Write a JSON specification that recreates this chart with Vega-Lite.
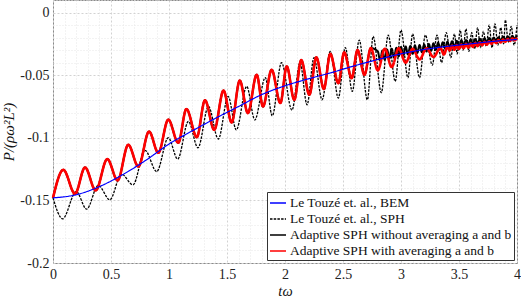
{
"$schema": "https://vega.github.io/schema/vega-lite/v6.json",
"width": 464, "height": 263,
"autosize": "none",
"padding": {"left": 53, "top": 0, "right": 4, "bottom": 35},
"background": "white",
"config": {"view": {"stroke": "#8a8a8a", "strokeWidth": 1}, "font": "Liberation Serif, DejaVu Serif, serif",
  "legend": {"orient": "bottom-right", "offset": 3, "fillColor": "white", "strokeColor": "#333", "padding": 2, "labelFont": "Liberation Serif, DejaVu Serif, serif", "labelFontSize": 13.5, "labelColor": "#111", "symbolType": "stroke", "symbolSize": 256, "symbolStrokeWidth": 1.3, "rowPadding": -1.5, "labelLimit": 400, "labelOffset": 3}},
"data": {"values": [
{"s":"Le Touzé et. al., BEM","t":0,"v":-0.148},{"s":"Le Touzé et. al., BEM","t":0.2,"v":-0.1455},{"s":"Le Touzé et. al., BEM","t":0.4,"v":-0.139},{"s":"Le Touzé et. al., BEM","t":0.6,"v":-0.1295},{"s":"Le Touzé et. al., BEM","t":0.8,"v":-0.118},{"s":"Le Touzé et. al., BEM","t":1.0,"v":-0.105},{"s":"Le Touzé et. al., BEM","t":1.2,"v":-0.0945},{"s":"Le Touzé et. al., BEM","t":1.4,"v":-0.0845},{"s":"Le Touzé et. al., BEM","t":1.6,"v":-0.075},{"s":"Le Touzé et. al., BEM","t":1.8,"v":-0.0655},{"s":"Le Touzé et. al., BEM","t":2.0,"v":-0.0585},{"s":"Le Touzé et. al., BEM","t":2.2,"v":-0.053},{"s":"Le Touzé et. al., BEM","t":2.4,"v":-0.048},{"s":"Le Touzé et. al., BEM","t":2.6,"v":-0.0425},{"s":"Le Touzé et. al., BEM","t":2.8,"v":-0.0375},{"s":"Le Touzé et. al., BEM","t":3.0,"v":-0.033},{"s":"Le Touzé et. al., BEM","t":3.2,"v":-0.0295},{"s":"Le Touzé et. al., BEM","t":3.4,"v":-0.027},{"s":"Le Touzé et. al., BEM","t":3.6,"v":-0.025},{"s":"Le Touzé et. al., BEM","t":3.8,"v":-0.023},{"s":"Le Touzé et. al., BEM","t":4.0,"v":-0.0215},
{"s":"Le Touzé et. al., SPH","t":0,"v":-0.148},{"s":"Le Touzé et. al., SPH","t":0.083,"v":-0.1647},{"s":"Le Touzé et. al., SPH","t":0.2,"v":-0.143},{"s":"Le Touzé et. al., SPH","t":0.29,"v":-0.157},{"s":"Le Touzé et. al., SPH","t":0.39,"v":-0.138},{"s":"Le Touzé et. al., SPH","t":0.49,"v":-0.1495},{"s":"Le Touzé et. al., SPH","t":0.59,"v":-0.129},{"s":"Le Touzé et. al., SPH","t":0.69,"v":-0.1376},{"s":"Le Touzé et. al., SPH","t":0.793,"v":-0.110},{"s":"Le Touzé et. al., SPH","t":0.894,"v":-0.127},{"s":"Le Touzé et. al., SPH","t":0.994,"v":-0.100},{"s":"Le Touzé et. al., SPH","t":1.075,"v":-0.117},{"s":"Le Touzé et. al., SPH","t":1.167,"v":-0.087},{"s":"Le Touzé et. al., SPH","t":1.25,"v":-0.108},{"s":"Le Touzé et. al., SPH","t":1.34,"v":-0.075},{"s":"Le Touzé et. al., SPH","t":1.425,"v":-0.101},{"s":"Le Touzé et. al., SPH","t":1.51,"v":-0.067},{"s":"Le Touzé et. al., SPH","t":1.58,"v":-0.0937},{"s":"Le Touzé et. al., SPH","t":1.67,"v":-0.059},{"s":"Le Touzé et. al., SPH","t":1.74,"v":-0.0857},{"s":"Le Touzé et. al., SPH","t":1.83,"v":-0.052},{"s":"Le Touzé et. al., SPH","t":1.89,"v":-0.0825},{"s":"Le Touzé et. al., SPH","t":1.97,"v":-0.040},{"s":"Le Touzé et. al., SPH","t":2.06,"v":-0.078},{"s":"Le Touzé et. al., SPH","t":2.13,"v":-0.040},{"s":"Le Touzé et. al., SPH","t":2.19,"v":-0.0737},{"s":"Le Touzé et. al., SPH","t":2.25,"v":-0.036},{"s":"Le Touzé et. al., SPH","t":2.32,"v":-0.0697},{"s":"Le Touzé et. al., SPH","t":2.39,"v":-0.031},{"s":"Le Touzé et. al., SPH","t":2.46,"v":-0.0683},{"s":"Le Touzé et. al., SPH","t":2.52,"v":-0.028},{"s":"Le Touzé et. al., SPH","t":2.58,"v":-0.063},{"s":"Le Touzé et. al., SPH","t":2.64,"v":-0.022},{"s":"Le Touzé et. al., SPH","t":2.71,"v":-0.0697},{"s":"Le Touzé et. al., SPH","t":2.76,"v":-0.019},{"s":"Le Touzé et. al., SPH","t":2.83,"v":-0.064},{"s":"Le Touzé et. al., SPH","t":2.89,"v":-0.018},{"s":"Le Touzé et. al., SPH","t":2.95,"v":-0.055},{"s":"Le Touzé et. al., SPH","t":3.0,"v":-0.014},{"s":"Le Touzé et. al., SPH","t":3.06,"v":-0.052},{"s":"Le Touzé et. al., SPH","t":3.1,"v":-0.017},{"s":"Le Touzé et. al., SPH","t":3.16,"v":-0.052},{"s":"Le Touzé et. al., SPH","t":3.21,"v":-0.018},{"s":"Le Touzé et. al., SPH","t":3.27,"v":-0.042},{"s":"Le Touzé et. al., SPH","t":3.31,"v":-0.018},{"s":"Le Touzé et. al., SPH","t":3.35,"v":-0.040},{"s":"Le Touzé et. al., SPH","t":3.39,"v":-0.016},{"s":"Le Touzé et. al., SPH","t":3.43,"v":-0.036},{"s":"Le Touzé et. al., SPH","t":3.46,"v":-0.017},{"s":"Le Touzé et. al., SPH","t":3.485,"v":-0.033},{"s":"Le Touzé et. al., SPH","t":3.51,"v":-0.014},{"s":"Le Touzé et. al., SPH","t":3.535,"v":-0.030},{"s":"Le Touzé et. al., SPH","t":3.56,"v":-0.013},{"s":"Le Touzé et. al., SPH","t":3.585,"v":-0.031},{"s":"Le Touzé et. al., SPH","t":3.61,"v":-0.016},{"s":"Le Touzé et. al., SPH","t":3.635,"v":-0.029},{"s":"Le Touzé et. al., SPH","t":3.66,"v":-0.012},{"s":"Le Touzé et. al., SPH","t":3.685,"v":-0.028},{"s":"Le Touzé et. al., SPH","t":3.71,"v":-0.015},{"s":"Le Touzé et. al., SPH","t":3.735,"v":-0.027},{"s":"Le Touzé et. al., SPH","t":3.76,"v":-0.010},{"s":"Le Touzé et. al., SPH","t":3.785,"v":-0.028},{"s":"Le Touzé et. al., SPH","t":3.81,"v":-0.009},{"s":"Le Touzé et. al., SPH","t":3.835,"v":-0.026},{"s":"Le Touzé et. al., SPH","t":3.86,"v":-0.012},{"s":"Le Touzé et. al., SPH","t":3.885,"v":-0.025},{"s":"Le Touzé et. al., SPH","t":3.9,"v":-0.006},{"s":"Le Touzé et. al., SPH","t":3.925,"v":-0.024},{"s":"Le Touzé et. al., SPH","t":3.95,"v":-0.011},{"s":"Le Touzé et. al., SPH","t":3.975,"v":-0.026},{"s":"Le Touzé et. al., SPH","t":4.0,"v":-0.010},
{"s":"Adaptive SPH without averaging a and b","t":0,"v":-0.148},{"s":"Adaptive SPH without averaging a and b","t":0.089,"v":-0.1256},{"s":"Adaptive SPH without averaging a and b","t":0.19,"v":-0.1447},{"s":"Adaptive SPH without averaging a and b","t":0.276,"v":-0.1237},{"s":"Adaptive SPH without averaging a and b","t":0.368,"v":-0.142},{"s":"Adaptive SPH without averaging a and b","t":0.468,"v":-0.117},{"s":"Adaptive SPH without averaging a and b","t":0.557,"v":-0.134},{"s":"Adaptive SPH without averaging a and b","t":0.649,"v":-0.1056},{"s":"Adaptive SPH without averaging a and b","t":0.736,"v":-0.123},{"s":"Adaptive SPH without averaging a and b","t":0.828,"v":-0.095},{"s":"Adaptive SPH without averaging a and b","t":0.908,"v":-0.112},{"s":"Adaptive SPH without averaging a and b","t":0.994,"v":-0.0855},{"s":"Adaptive SPH without averaging a and b","t":1.08,"v":-0.104},{"s":"Adaptive SPH without averaging a and b","t":1.15,"v":-0.077},{"s":"Adaptive SPH without averaging a and b","t":1.24,"v":-0.0995},{"s":"Adaptive SPH without averaging a and b","t":1.31,"v":-0.070},{"s":"Adaptive SPH without averaging a and b","t":1.39,"v":-0.0937},{"s":"Adaptive SPH without averaging a and b","t":1.47,"v":-0.0623},{"s":"Adaptive SPH without averaging a and b","t":1.54,"v":-0.0878},{"s":"Adaptive SPH without averaging a and b","t":1.61,"v":-0.0543},{"s":"Adaptive SPH without averaging a and b","t":1.68,"v":-0.0803},{"s":"Adaptive SPH without averaging a and b","t":1.756,"v":-0.0497},{"s":"Adaptive SPH without averaging a and b","t":1.81,"v":-0.075},{"s":"Adaptive SPH without averaging a and b","t":1.885,"v":-0.0457},{"s":"Adaptive SPH without averaging a and b","t":1.96,"v":-0.0723},{"s":"Adaptive SPH without averaging a and b","t":2.015,"v":-0.043},{"s":"Adaptive SPH without averaging a and b","t":2.08,"v":-0.0697},{"s":"Adaptive SPH without averaging a and b","t":2.14,"v":-0.038},{"s":"Adaptive SPH without averaging a and b","t":2.21,"v":-0.0657},{"s":"Adaptive SPH without averaging a and b","t":2.27,"v":-0.0357},{"s":"Adaptive SPH without averaging a and b","t":2.335,"v":-0.061},{"s":"Adaptive SPH without averaging a and b","t":2.39,"v":-0.033},{"s":"Adaptive SPH without averaging a and b","t":2.46,"v":-0.0564},{"s":"Adaptive SPH without averaging a and b","t":2.51,"v":-0.0318},{"s":"Adaptive SPH without averaging a and b","t":2.575,"v":-0.0524},{"s":"Adaptive SPH without averaging a and b","t":2.625,"v":-0.030},{"s":"Adaptive SPH without averaging a and b","t":2.685,"v":-0.0497},{"s":"Adaptive SPH without averaging a and b","t":2.74,"v":-0.0284},
{"s":"Adaptive SPH without averaging a and b","t":2.80,"v":-0.031},{"s":"Adaptive SPH without averaging a and b","t":2.82,"v":-0.0386},{"s":"Adaptive SPH without averaging a and b","t":2.84,"v":-0.0303},{"s":"Adaptive SPH without averaging a and b","t":2.86,"v":-0.0377},{"s":"Adaptive SPH without averaging a and b","t":2.88,"v":-0.0296},{"s":"Adaptive SPH without averaging a and b","t":2.90,"v":-0.0368},{"s":"Adaptive SPH without averaging a and b","t":2.92,"v":-0.0289},{"s":"Adaptive SPH without averaging a and b","t":2.94,"v":-0.0359},{"s":"Adaptive SPH without averaging a and b","t":2.96,"v":-0.0282},{"s":"Adaptive SPH without averaging a and b","t":2.98,"v":-0.0350},{"s":"Adaptive SPH without averaging a and b","t":3.00,"v":-0.0275},{"s":"Adaptive SPH without averaging a and b","t":3.02,"v":-0.0342},{"s":"Adaptive SPH without averaging a and b","t":3.04,"v":-0.0271},{"s":"Adaptive SPH without averaging a and b","t":3.06,"v":-0.0336},{"s":"Adaptive SPH without averaging a and b","t":3.08,"v":-0.0267},{"s":"Adaptive SPH without averaging a and b","t":3.10,"v":-0.0330},{"s":"Adaptive SPH without averaging a and b","t":3.12,"v":-0.0263},{"s":"Adaptive SPH without averaging a and b","t":3.14,"v":-0.0324},{"s":"Adaptive SPH without averaging a and b","t":3.16,"v":-0.0259},{"s":"Adaptive SPH without averaging a and b","t":3.18,"v":-0.0318},{"s":"Adaptive SPH without averaging a and b","t":3.20,"v":-0.0255},{"s":"Adaptive SPH without averaging a and b","t":3.22,"v":-0.0312},{"s":"Adaptive SPH without averaging a and b","t":3.24,"v":-0.0251},{"s":"Adaptive SPH without averaging a and b","t":3.26,"v":-0.0305},{"s":"Adaptive SPH without averaging a and b","t":3.28,"v":-0.0246},{"s":"Adaptive SPH without averaging a and b","t":3.30,"v":-0.0299},{"s":"Adaptive SPH without averaging a and b","t":3.32,"v":-0.0242},{"s":"Adaptive SPH without averaging a and b","t":3.34,"v":-0.0293},{"s":"Adaptive SPH without averaging a and b","t":3.36,"v":-0.0237},{"s":"Adaptive SPH without averaging a and b","t":3.38,"v":-0.0286},{"s":"Adaptive SPH without averaging a and b","t":3.40,"v":-0.0233},{"s":"Adaptive SPH without averaging a and b","t":3.42,"v":-0.0280},{"s":"Adaptive SPH without averaging a and b","t":3.44,"v":-0.0229},{"s":"Adaptive SPH without averaging a and b","t":3.46,"v":-0.0275},{"s":"Adaptive SPH without averaging a and b","t":3.48,"v":-0.0226},{"s":"Adaptive SPH without averaging a and b","t":3.50,"v":-0.0269},{"s":"Adaptive SPH without averaging a and b","t":3.52,"v":-0.0222},{"s":"Adaptive SPH without averaging a and b","t":3.54,"v":-0.0263},{"s":"Adaptive SPH without averaging a and b","t":3.56,"v":-0.0219},{"s":"Adaptive SPH without averaging a and b","t":3.58,"v":-0.0258},{"s":"Adaptive SPH without averaging a and b","t":3.60,"v":-0.0215},{"s":"Adaptive SPH without averaging a and b","t":3.62,"v":-0.0253},{"s":"Adaptive SPH without averaging a and b","t":3.64,"v":-0.0212},{"s":"Adaptive SPH without averaging a and b","t":3.66,"v":-0.0248},{"s":"Adaptive SPH without averaging a and b","t":3.68,"v":-0.0209},{"s":"Adaptive SPH without averaging a and b","t":3.70,"v":-0.0243},{"s":"Adaptive SPH without averaging a and b","t":3.72,"v":-0.0206},{"s":"Adaptive SPH without averaging a and b","t":3.74,"v":-0.0238},{"s":"Adaptive SPH without averaging a and b","t":3.76,"v":-0.0203},{"s":"Adaptive SPH without averaging a and b","t":3.78,"v":-0.0233},{"s":"Adaptive SPH without averaging a and b","t":3.80,"v":-0.0200},{"s":"Adaptive SPH without averaging a and b","t":3.82,"v":-0.0228},{"s":"Adaptive SPH without averaging a and b","t":3.84,"v":-0.0197},{"s":"Adaptive SPH without averaging a and b","t":3.86,"v":-0.0223},{"s":"Adaptive SPH without averaging a and b","t":3.88,"v":-0.0193},{"s":"Adaptive SPH without averaging a and b","t":3.90,"v":-0.0219},{"s":"Adaptive SPH without averaging a and b","t":3.92,"v":-0.0190},{"s":"Adaptive SPH without averaging a and b","t":3.94,"v":-0.0214},{"s":"Adaptive SPH without averaging a and b","t":3.96,"v":-0.0186},{"s":"Adaptive SPH without averaging a and b","t":3.98,"v":-0.0209},{"s":"Adaptive SPH without averaging a and b","t":4.00,"v":-0.0183},
{"s":"Adaptive SPH with averaging a and b","t":0,"v":-0.148},{"s":"Adaptive SPH with averaging a and b","t":0.089,"v":-0.1256},{"s":"Adaptive SPH with averaging a and b","t":0.19,"v":-0.1447},{"s":"Adaptive SPH with averaging a and b","t":0.276,"v":-0.1237},{"s":"Adaptive SPH with averaging a and b","t":0.368,"v":-0.142},{"s":"Adaptive SPH with averaging a and b","t":0.468,"v":-0.117},{"s":"Adaptive SPH with averaging a and b","t":0.557,"v":-0.134},{"s":"Adaptive SPH with averaging a and b","t":0.649,"v":-0.1056},{"s":"Adaptive SPH with averaging a and b","t":0.736,"v":-0.123},{"s":"Adaptive SPH with averaging a and b","t":0.828,"v":-0.095},{"s":"Adaptive SPH with averaging a and b","t":0.908,"v":-0.112},{"s":"Adaptive SPH with averaging a and b","t":0.994,"v":-0.0855},{"s":"Adaptive SPH with averaging a and b","t":1.08,"v":-0.104},{"s":"Adaptive SPH with averaging a and b","t":1.15,"v":-0.077},{"s":"Adaptive SPH with averaging a and b","t":1.24,"v":-0.0995},{"s":"Adaptive SPH with averaging a and b","t":1.31,"v":-0.070},{"s":"Adaptive SPH with averaging a and b","t":1.39,"v":-0.0937},{"s":"Adaptive SPH with averaging a and b","t":1.47,"v":-0.0623},{"s":"Adaptive SPH with averaging a and b","t":1.54,"v":-0.0878},{"s":"Adaptive SPH with averaging a and b","t":1.61,"v":-0.0543},{"s":"Adaptive SPH with averaging a and b","t":1.68,"v":-0.0803},{"s":"Adaptive SPH with averaging a and b","t":1.756,"v":-0.0497},{"s":"Adaptive SPH with averaging a and b","t":1.81,"v":-0.075},{"s":"Adaptive SPH with averaging a and b","t":1.885,"v":-0.0457},{"s":"Adaptive SPH with averaging a and b","t":1.96,"v":-0.0723},{"s":"Adaptive SPH with averaging a and b","t":2.015,"v":-0.043},{"s":"Adaptive SPH with averaging a and b","t":2.08,"v":-0.0697},{"s":"Adaptive SPH with averaging a and b","t":2.14,"v":-0.038},{"s":"Adaptive SPH with averaging a and b","t":2.21,"v":-0.0657},{"s":"Adaptive SPH with averaging a and b","t":2.27,"v":-0.0357},{"s":"Adaptive SPH with averaging a and b","t":2.335,"v":-0.061},{"s":"Adaptive SPH with averaging a and b","t":2.39,"v":-0.033},{"s":"Adaptive SPH with averaging a and b","t":2.46,"v":-0.0564},{"s":"Adaptive SPH with averaging a and b","t":2.51,"v":-0.0318},{"s":"Adaptive SPH with averaging a and b","t":2.575,"v":-0.0524},{"s":"Adaptive SPH with averaging a and b","t":2.625,"v":-0.030},{"s":"Adaptive SPH with averaging a and b","t":2.685,"v":-0.0497},{"s":"Adaptive SPH with averaging a and b","t":2.74,"v":-0.0284},{"s":"Adaptive SPH with averaging a and b","t":2.80,"v":-0.0462},{"s":"Adaptive SPH with averaging a and b","t":2.86,"v":-0.0290},{"s":"Adaptive SPH with averaging a and b","t":2.92,"v":-0.0435},{"s":"Adaptive SPH with averaging a and b","t":2.98,"v":-0.0285},{"s":"Adaptive SPH with averaging a and b","t":3.04,"v":-0.0400},{"s":"Adaptive SPH with averaging a and b","t":3.10,"v":-0.0290},{"s":"Adaptive SPH with averaging a and b","t":3.16,"v":-0.0375},{"s":"Adaptive SPH with averaging a and b","t":3.22,"v":-0.0285},{"s":"Adaptive SPH with averaging a and b","t":3.28,"v":-0.0355},{"s":"Adaptive SPH with averaging a and b","t":3.34,"v":-0.0282},{"s":"Adaptive SPH with averaging a and b","t":3.37,"v":-0.0335},{"s":"Adaptive SPH with averaging a and b","t":3.40,"v":-0.0272},
{"s":"Adaptive SPH with averaging a and b","t":3.42,"v":-0.0303},{"s":"Adaptive SPH with averaging a and b","t":3.44,"v":-0.0266},{"s":"Adaptive SPH with averaging a and b","t":3.46,"v":-0.0297},{"s":"Adaptive SPH with averaging a and b","t":3.48,"v":-0.0261},{"s":"Adaptive SPH with averaging a and b","t":3.50,"v":-0.0291},{"s":"Adaptive SPH with averaging a and b","t":3.52,"v":-0.0256},{"s":"Adaptive SPH with averaging a and b","t":3.54,"v":-0.0285},{"s":"Adaptive SPH with averaging a and b","t":3.56,"v":-0.0252},{"s":"Adaptive SPH with averaging a and b","t":3.58,"v":-0.0280},{"s":"Adaptive SPH with averaging a and b","t":3.60,"v":-0.0247},{"s":"Adaptive SPH with averaging a and b","t":3.62,"v":-0.0274},{"s":"Adaptive SPH with averaging a and b","t":3.64,"v":-0.0243},{"s":"Adaptive SPH with averaging a and b","t":3.66,"v":-0.0268},{"s":"Adaptive SPH with averaging a and b","t":3.68,"v":-0.0238},{"s":"Adaptive SPH with averaging a and b","t":3.70,"v":-0.0262},{"s":"Adaptive SPH with averaging a and b","t":3.72,"v":-0.0234},{"s":"Adaptive SPH with averaging a and b","t":3.74,"v":-0.0256},{"s":"Adaptive SPH with averaging a and b","t":3.76,"v":-0.0229},{"s":"Adaptive SPH with averaging a and b","t":3.78,"v":-0.0250},{"s":"Adaptive SPH with averaging a and b","t":3.80,"v":-0.0225},{"s":"Adaptive SPH with averaging a and b","t":3.82,"v":-0.0244},{"s":"Adaptive SPH with averaging a and b","t":3.84,"v":-0.0220},{"s":"Adaptive SPH with averaging a and b","t":3.86,"v":-0.0239},{"s":"Adaptive SPH with averaging a and b","t":3.88,"v":-0.0216},{"s":"Adaptive SPH with averaging a and b","t":3.90,"v":-0.0233},{"s":"Adaptive SPH with averaging a and b","t":3.92,"v":-0.0211},{"s":"Adaptive SPH with averaging a and b","t":3.94,"v":-0.0227},{"s":"Adaptive SPH with averaging a and b","t":3.96,"v":-0.0207},{"s":"Adaptive SPH with averaging a and b","t":3.98,"v":-0.0221},{"s":"Adaptive SPH with averaging a and b","t":4.00,"v":-0.0202}
]},
"encoding": {
  "x": {"field": "t", "type": "quantitative", "scale": {"domain": [0, 4], "nice": false, "zero": false},
    "axis": {"title": "tω", "titleFont": "Liberation Serif, DejaVu Serif, serif", "titleFontStyle": "italic", "titleFontWeight": "normal", "titleFontSize": 14.5, "titleColor": "#111", "titlePadding": 3,
      "values": [0,0.1,0.2,0.3,0.4,0.5,0.6,0.7,0.8,0.9,1,1.1,1.2,1.3,1.4,1.5,1.6,1.7,1.8,1.9,2,2.1,2.2,2.3,2.4,2.5,2.6,2.7,2.8,2.9,3,3.1,3.2,3.3,3.4,3.5,3.6,3.7,3.8,3.9,4],
      "labelExpr": "abs(datum.value*2 - round(datum.value*2)) < 0.001 ? '' + round(datum.value*10)/10 : ''",
      "labelFont": "Liberation Serif, DejaVu Serif, serif", "labelFontSize": 14, "labelColor": "#222", "labelPadding": 4, "labelFlush": false, "labelOverlap": false, "labelBound": false,
      "tickSize": 0, "domain": false, "grid": true,
      "gridColor": {"condition": {"test": "abs(datum.value*2 - round(datum.value*2)) < 0.001", "value": "#d2d2d2"}, "value": "#e6e6e6"},
      "gridDash": {"condition": {"test": "abs(datum.value*2 - round(datum.value*2)) < 0.001", "value": [2, 2]}, "value": [1, 2]}}},
  "y": {"field": "v", "type": "quantitative", "scale": {"domain": [-0.2, 0.01], "nice": false, "zero": false},
    "axis": {"title": "P/(ρω²L²)", "titleFont": "Liberation Serif, DejaVu Serif, serif", "titleFontStyle": "italic", "titleFontWeight": "normal", "titleFontSize": 15, "titleColor": "#111", "titlePadding": 3,
      "values": [-0.2,-0.19,-0.18,-0.17,-0.16,-0.15,-0.14,-0.13,-0.12,-0.11,-0.1,-0.09,-0.08,-0.07,-0.06,-0.05,-0.04,-0.03,-0.02,-0.01,0,0.01],
      "labelExpr": "abs(datum.value*20 - round(datum.value*20)) < 0.001 ? '' + round(datum.value*100)/100 : ''",
      "labelFont": "Liberation Serif, DejaVu Serif, serif", "labelFontSize": 14, "labelColor": "#222", "labelPadding": 4, "labelFlush": false, "labelOverlap": false, "labelBound": false,
      "tickSize": 0, "domain": false, "grid": true,
      "gridColor": {"condition": {"test": "abs(datum.value*20 - round(datum.value*20)) < 0.001", "value": "#d2d2d2"}, "value": "#e6e6e6"},
      "gridDash": {"condition": {"test": "abs(datum.value*20 - round(datum.value*20)) < 0.001", "value": [2, 2]}, "value": [1, 2]}}},
  "color": {"field": "s", "type": "nominal", "legend": {"title": null},
    "scale": {"domain": ["Le Touzé et. al., BEM", "Le Touzé et. al., SPH", "Adaptive SPH without averaging a and b", "Adaptive SPH with averaging a and b"], "range": ["#0000ff", "#000000", "#000000", "#ff0000"]}},
  "strokeDash": {"field": "s", "type": "nominal", "legend": {"title": null},
    "scale": {"domain": ["Le Touzé et. al., BEM", "Le Touzé et. al., SPH", "Adaptive SPH without averaging a and b", "Adaptive SPH with averaging a and b"], "range": [[1, 0], [2.5, 1.2], [1, 0], [1, 0]]}}
},
"layer": [
  {"transform": [{"filter": "datum.s == 'Le Touzé et. al., SPH'"}], "mark": {"type": "line", "interpolate": "monotone", "strokeWidth": 1.3}},
  {"transform": [{"filter": "datum.s == 'Adaptive SPH without averaging a and b'"}], "mark": {"type": "line", "interpolate": "monotone", "strokeWidth": 2}},
  {"transform": [{"filter": "datum.s == 'Adaptive SPH with averaging a and b'"}], "mark": {"type": "line", "interpolate": "monotone", "strokeWidth": 2.6}},
  {"transform": [{"filter": "datum.s == 'Le Touzé et. al., BEM'"}], "mark": {"type": "line", "interpolate": "monotone", "strokeWidth": 1.2}}
]
}
